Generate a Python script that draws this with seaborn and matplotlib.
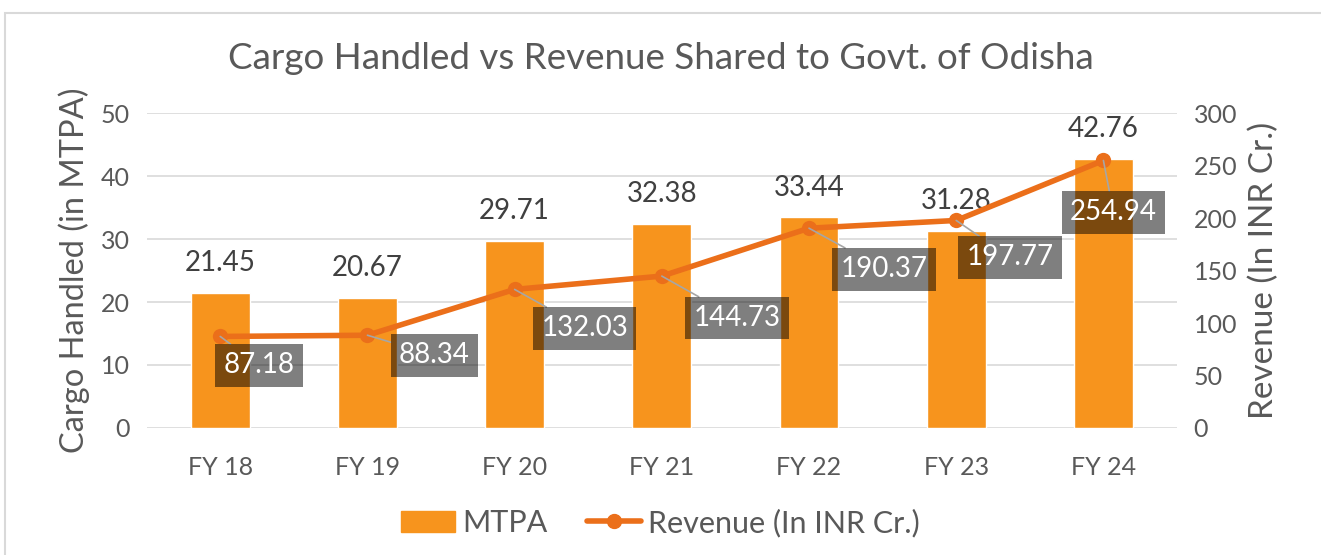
import numpy as np
import matplotlib.pyplot as plt
import seaborn as sns
from matplotlib.patches import Rectangle, Patch
from matplotlib.lines import Line2D

years = ['FY 18', 'FY 19', 'FY 20', 'FY 21', 'FY 22', 'FY 23', 'FY 24']
mtpa = [21.45, 20.67, 29.71, 32.38, 33.44, 31.28, 42.76]
revenue = [87.18, 88.34, 132.03, 144.73, 190.37, 197.77, 254.94]

# hand-placed label offsets (pixels) like the original
rev_offsets = [(39, -29), (67, -20), (70, -39), (75, -42), (75, -41), (54, -37), (10, -52)]

sns.set_style('white')
plt.rcParams['font.family'] = ['Lato', 'DejaVu Sans']
grey = '#595959'
bar_col = '#F7941D'
line_col = '#EB6F1A'

fig = plt.figure(figsize=(13.21, 5.55), dpi=100)
ax = fig.add_axes([0.111, 0.229, 0.780, 0.567])
x = np.arange(len(years))

sns.barplot(x=x, y=mtpa, color=bar_col, width=0.4, saturation=1, ax=ax, zorder=2)
ax.set_ylim(0, 50)
ax.set_yticks(range(0, 51, 10))
ax.set_xlim(-0.5, len(years) - 0.5)
ax.set_xticks(x)
ax.set_xticklabels(years)
ax.yaxis.grid(True, color='#d9d9d9', lw=1.2, zorder=0)
ax.set_axisbelow(True)
for s in ax.spines.values():
    s.set_visible(False)
ax.tick_params(length=0, labelsize=18, colors=grey, pad=12)
ax.tick_params(axis='x', pad=20)
ax.set_ylabel('Cargo Handled (in MTPA)', fontsize=23.5, color=grey, labelpad=8)
ax.bar_label(ax.containers[0], fmt='%.2f', padding=12, fontsize=20, color='#404040')

ax2 = ax.twinx()
sns.lineplot(x=x, y=revenue, color=line_col, lw=4, marker='o', markersize=11,
             markeredgewidth=0, ax=ax2, zorder=3)
ax2.set_ylim(0, 300)
ax2.set_yticks(range(0, 301, 50))
for s in ax2.spines.values():
    s.set_visible(False)
ax2.tick_params(length=0, labelsize=18, colors=grey, pad=12)
ax2.set_ylabel('Revenue (In INR Cr.)', fontsize=24, color=grey, labelpad=8)

for xi, v, (dx, dy) in zip(x, revenue, rev_offsets):
    ax2.annotate(f'{v:.2f}', (xi, v), xytext=(dx, dy), textcoords='offset pixels',
                 ha='center', va='center', fontsize=20, color='white', zorder=5,
                 bbox=dict(boxstyle='square,pad=0.3', fc='black', ec='none', alpha=0.5),
                 arrowprops=dict(arrowstyle='-', color='#a6a6a6', lw=1.2, shrinkA=0, shrinkB=0))

handles = [Patch(color=bar_col, label='MTPA'),
           Line2D([], [], color=line_col, lw=4, marker='o', markersize=10, label='Revenue (In INR Cr.)')]
fig.legend(handles=handles, loc='center', bbox_to_anchor=(0.5, 0.058), ncol=2, frameon=False,
           fontsize=22, labelcolor=grey, handlelength=1.75, columnspacing=1.3, handletextpad=0.25)

fig.suptitle('Cargo Handled vs Revenue Shared to Govt. of Odisha', y=0.925, fontsize=26.5, color=grey)
fig.patches.append(Rectangle((0.004, -0.02), 1.02, 0.997, transform=fig.transFigure,
                             fill=False, ec='#d9d9d9', lw=1.5))

fig.savefig('out.png', dpi=100)
